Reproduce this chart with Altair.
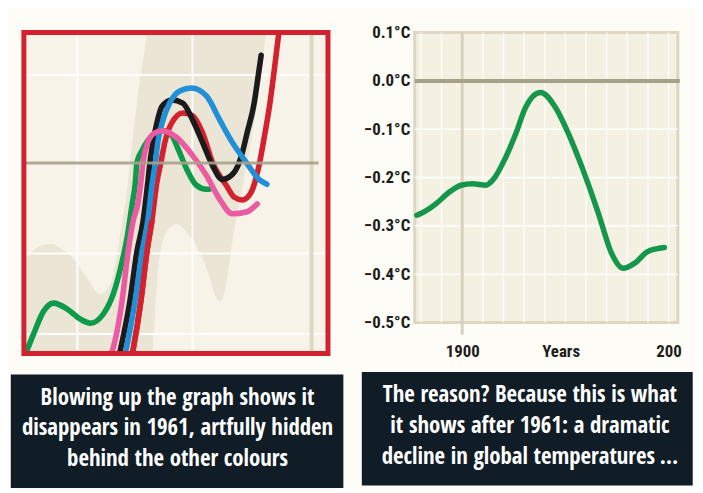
import altair as alt
import pandas as pd

FONT = "Open Sans Condensed, Roboto Condensed, sans-serif"
AXFONT = "Roboto Condensed, Open Sans Condensed, sans-serif"

# ---------------- left panel (blown-up multi-proxy graph) ----------------
green_year = [1899.6, 1902.9, 1906.2, 1909.5, 1914.1, 1918.3, 1921.6, 1925.8, 1929.1, 1931.4, 1933.7, 1935.3,
              1936.4, 1936.9, 1938.6, 1940.5, 1942.8, 1945.4, 1948.4, 1950.3, 1953.3, 1956.5, 1959.8, 1960.8]
green_temp = [-0.440, -0.383, -0.332, -0.314, -0.328, -0.350, -0.359, -0.339, -0.294, -0.239, -0.166, -0.094,
              -0.043, 0.001, 0.028, 0.050, 0.066, 0.072, 0.061, 0.034, -0.014, -0.050, -0.059, -0.059]

pink_year = [1927.5, 1928.8, 1932.0, 1934.0, 1935.6, 1937.3, 1938.2, 1938.9, 1940.5, 1942.5, 1945.1, 1950.0,
             1955.2, 1959.8, 1964.1, 1968.3, 1972.9, 1976.5]
pink_temp = [-0.443, -0.421, -0.310, -0.199, -0.132, -0.088, -0.043, 0.001, 0.046, 0.066, 0.072, 0.057,
             0.017, -0.028, -0.081, -0.114, -0.110, -0.092]

black_year = [1930.7, 1931.4, 1934.6, 1936.9, 1938.9, 1940.5, 1941.2, 1942.2, 1943.5, 1945.1, 1948.4, 1952.0,
              1955.2, 1958.5, 1961.8, 1965.0, 1968.3, 1969.9, 1971.6, 1973.2, 1975.5, 1976.5, 1977.8]
black_temp = [-0.443, -0.421, -0.310, -0.199, -0.132, -0.043, 0.001, 0.046, 0.090, 0.126, 0.141, 0.134,
              0.097, 0.046, -0.006, -0.037, -0.026, -0.010, 0.023, 0.068, 0.134, 0.179, 0.241]

blue_year = [1932.7, 1933.3, 1936.3, 1938.6, 1940.4, 1942.0, 1943.0, 1943.8, 1945.4, 1947.7, 1951.0, 1954.9,
             1959.8, 1964.1, 1968.3, 1972.9, 1977.1, 1979.7]
blue_temp = [-0.443, -0.421, -0.310, -0.199, -0.132, -0.043, 0.001, 0.046, 0.094, 0.134, 0.161, 0.168,
             0.150, 0.097, 0.046, 0.001, -0.037, -0.048]

red_year = [1935.0, 1935.6, 1938.2, 1940.2, 1941.8, 1943.5, 1944.8, 1946.1, 1948.4, 1952.0, 1955.2, 1958.5,
            1961.8, 1966.3, 1969.0, 1971.6, 1974.5, 1977.1, 1979.1, 1980.7, 1982.0, 1983.0, 1984.0]
red_temp = [-0.443, -0.421, -0.310, -0.199, -0.132, -0.043, 0.001, 0.046, 0.090, 0.112, 0.106, 0.068,
            0.001, -0.050, -0.077, -0.083, -0.066, -0.006, 0.068, 0.134, 0.201, 0.257, 0.312]

band_year = [1900.0, 1904.2, 1908.5, 1912.4, 1916.0, 1920.6, 1924.8, 1928.1, 1931.4, 1933.7, 1935.6, 1937.9,
             1940.2, 1941.2, 1942.5, 1943.8, 1945.4, 1947.7, 1950.0, 1952.6, 1955.2, 1958.2, 1960.8, 1962.7,
             1964.4, 1966.3, 1968.3, 1971.6, 1974.8, 1977.1, 1979.4, 1981.0]
band_hi = [-0.214, -0.190, -0.181, -0.194, -0.214, -0.259, -0.294, -0.272, -0.161, -0.059, 0.061, 0.186,
           0.290, 0.350, 0.350, 0.350, 0.350, 0.350, 0.350, 0.350, 0.350, 0.350, 0.350, 0.350,
           0.350, 0.350, 0.350, 0.350, 0.350, 0.350, 0.350, 0.350]
band_lo = [-0.500, -0.500, -0.500, -0.500, -0.500, -0.500, -0.500, -0.500, -0.500, -0.500, -0.500, -0.500,
           -0.500, -0.500, -0.377, -0.243, -0.177, -0.146, -0.137, -0.150, -0.172, -0.210, -0.254, -0.299,
           -0.310, -0.270, -0.177, -0.054, 0.061, 0.157, 0.290, 0.357]

left_grid_years = [1917.3, 1955.2]
left_edge_years = [1994.4]
left_grid_temps = [0.197, -0.203, -0.383]
left_zero = [0.0]

caption_left = ["Blowing up the graph shows it",
                "disappears in 1961, artfully hidden",
                "behind the other colours"]

# ---------------- right panel (the hidden series) ----------------
right_year = [1878.0, 1880.2, 1887.4, 1893.8, 1899.5, 1905.0, 1911.5, 1914.7, 1921.1, 1925.9, 1930.7,
              1938.0, 1945.2, 1951.6, 1958.0, 1966.0, 1972.4, 1978.0, 1983.7, 1990.0, 1998.0]
right_temp = [-0.278, -0.274, -0.254, -0.230, -0.216, -0.213, -0.216, -0.206, -0.158, -0.110, -0.055,
              -0.024, -0.055, -0.110, -0.178, -0.274, -0.357, -0.388, -0.377, -0.353, -0.345]

y_tick_values = [0.1, 0.0, -0.1, -0.2, -0.3, -0.4, -0.5]
y_tick_labels = ["0.1°C", "0.0°C", "−0.1°C", "−0.2°C", "−0.3°C", "−0.4°C", "−0.5°C"]
x_tick_values = [1900, 2000]
x_tick_labels = ["1900", "200"]
x_title = "Years"
right_grid_years = [1880, 1890, 1910, 1920, 1930, 1940, 1950, 1960, 1970, 1980, 1990, 2000]
right_grid_temps = [-0.1, -0.2, -0.3, -0.4]
right_mark_year = [1900]

caption_right = ["The reason? Because this is what",
                 "it shows after 1961: a dramatic",
                 "decline in global temperatures\u2009…"]


def label_expr(values, labels):
    expr = "''"
    for v, l in reversed(list(zip(values, labels))):
        expr = f"datum.value == {v} ? '{l}' : ({expr})"
    return expr


one = pd.DataFrame({"k": [0]})
CAP_FILL = "#101c26"

# ================= LEFT CHART =================
LW, LH = 306.3, 323.3
lx = alt.Scale(domain=[1899.7, 1999.8], nice=False, zero=False)
ly = alt.Scale(domain=[-0.427, 0.292], nice=False, zero=False)

band_df = pd.DataFrame({"year": band_year, "lo": band_lo, "hi": band_hi})
band = alt.Chart(band_df).mark_area(color="#eae5d5", interpolate="monotone", clip=True).encode(
    x=alt.X("year:Q", scale=lx, axis=None),
    y=alt.Y("lo:Q", scale=ly, axis=None),
    y2="hi:Q",
)

vgrid = alt.Chart(pd.DataFrame({"year": left_grid_years})).mark_rule(
    color="#ffffff", strokeWidth=2, opacity=0.9).encode(x=alt.X("year:Q", scale=lx, axis=None))
vedge = alt.Chart(pd.DataFrame({"year": left_edge_years})).mark_rule(
    color="#ddd7c5", strokeWidth=4).encode(x=alt.X("year:Q", scale=lx, axis=None))
hgrid = alt.Chart(pd.DataFrame({"t": left_grid_temps})).mark_rule(
    color="#ffffff", strokeWidth=2, opacity=0.9).encode(y=alt.Y("t:Q", scale=ly, axis=None))


def series(name, years, temps):
    return pd.DataFrame({"year": years, "temp": temps, "s": name, "i": range(len(years))})


def line(df, color, width=5.6):
    return alt.Chart(df).mark_line(color=color, strokeWidth=width, interpolate="monotone",
                                   clip=True, strokeCap="round").encode(
        x=alt.X("year:Q", scale=lx, axis=None),
        y=alt.Y("temp:Q", scale=ly, axis=None),
        order="i:Q",
    )


green_df = series("green", green_year, green_temp)
pink_df = series("pink", pink_year, pink_temp)
black_df = series("black", black_year, black_temp)
blue_df = series("blue", blue_year, blue_temp)
red_df = series("red", red_year, red_temp)

GREEN, PINK, BLACK, BLUE, RED = "#0e9a4b", "#ea5ba2", "#1b1a1c", "#2190d6", "#d3222d"

l_green = line(green_df, GREEN)
l_red = line(red_df, RED)
l_black = line(black_df, BLACK)
l_blue = line(blue_df, BLUE)
l_red_rise = line(red_df, RED).transform_filter("datum.year < 1942.5")
l_pink = line(pink_df, PINK)

zero_l = alt.Chart(pd.DataFrame({"t": left_zero, "a": [1900.3], "b": [1996.7]})).mark_rule(
    color="#a7a28c", strokeWidth=3, opacity=0.9).encode(
    y=alt.Y("t:Q", scale=ly, axis=None), x=alt.X("a:Q", scale=lx, axis=None), x2="b:Q")

frame = alt.Chart(one).mark_rect(fillOpacity=0, stroke=RED, strokeWidth=5).encode(
    x=alt.value(0), x2=alt.value(LW), y=alt.value(0), y2=alt.value(LH))

cap_l_box = alt.Chart(one).mark_rect(color=CAP_FILL).encode(
    x=alt.value(-13.2), x2=alt.value(321.8), y=alt.value(344.3), y2=alt.value(458.8))
cap_l_text = alt.Chart(one).mark_text(
    color="#ffffff", font=FONT, fontWeight="bold", fontSize=23, lineHeight=31,
    align="center", baseline="middle").encode(
    x=alt.value(154.8), y=alt.value(367.8), text=alt.value(caption_left))
top_l = alt.Chart(one).mark_rect(opacity=0).encode(
    x=alt.value(-13.2), x2=alt.value(321.8), y=alt.value(-18.2), y2=alt.value(344.3))

left = alt.layer(top_l, band, vgrid, hgrid, vedge, l_green, l_red, l_black, l_blue, l_red_rise,
                 l_pink, zero_l, frame, cap_l_box, cap_l_text).properties(
    width=LW, height=LH, view=alt.ViewBackground(fill="#f7f3e8", strokeWidth=0))

# ================= RIGHT CHART =================
RW, RH = 265, 292
rx = alt.Scale(domain=[1877, 2004.5], nice=False, zero=False)
ry = alt.Scale(domain=[-0.5, 0.1], nice=False, zero=False)

LABEL_COLOR = "#1c1c1a"
x_axis = alt.Axis(
    values=x_tick_values, labelExpr=label_expr(x_tick_values, x_tick_labels),
    ticks=False, domain=False, grid=False, labelPadding=21,
    labelFont=AXFONT, labelFontSize=17, labelFontWeight="bold", labelColor=LABEL_COLOR,
    title=x_title, titleFont=AXFONT, titleFontSize=17, titleFontWeight="bold",
    titleColor=LABEL_COLOR, titleX=147, titleY=21, titleBaseline="top", titleAlign="center")
y_axis = alt.Axis(
    values=y_tick_values, labelExpr=label_expr(y_tick_values, y_tick_labels),
    ticks=False, domain=False, grid=False, labelPadding=5, title=None,
    labelFont=AXFONT, labelFontSize=17, labelFontWeight="bold", labelColor=LABEL_COLOR)


def RX(field):
    return alt.X(field, type="quantitative", scale=rx, axis=x_axis)


def RY(field):
    return alt.Y(field, type="quantitative", scale=ry, axis=y_axis)


r_vgrid = alt.Chart(pd.DataFrame({"year": right_grid_years})).mark_rule(
    color="#ffffff", strokeWidth=1.5, opacity=0.8).encode(x=RX("year"))
r_hgrid = alt.Chart(pd.DataFrame({"t": right_grid_temps})).mark_rule(
    color="#ffffff", strokeWidth=1.5, opacity=0.9).encode(y=RY("t"))
r_mark = alt.Chart(pd.DataFrame({"year": right_mark_year})).mark_rule(
    color="#d8d1bb", strokeWidth=3).encode(
    x=RX("year"), y=alt.value(0), y2=alt.value(RH + 12))
r_zero = alt.Chart(pd.DataFrame({"t": [0.0]})).mark_rule(
    color="#a6a18b", strokeWidth=4).encode(
    y=RY("t"), x=alt.value(0), x2=alt.value(RW + 2))

right_df = pd.DataFrame({"year": right_year, "temp": right_temp, "i": range(len(right_year))})
r_line = alt.Chart(right_df).mark_line(color="#14964b", strokeWidth=5.5, interpolate="monotone",
                                       strokeCap="round").encode(
    x=RX("year"), y=RY("temp"), order="i:Q")

cap_r_box = alt.Chart(one).mark_rect(color=CAP_FILL).encode(
    x=alt.value(-53.3), x2=alt.value(280), y=alt.value(341.8), y2=alt.value(456.3))
cap_r_text = alt.Chart(one).mark_text(
    color="#ffffff", font=FONT, fontWeight="bold", fontSize=23, lineHeight=31,
    align="center", baseline="middle").encode(
    x=alt.value(116), y=alt.value(365.3), text=alt.value(caption_right))
top_r = alt.Chart(one).mark_rect(opacity=0).encode(
    x=alt.value(-53.3), x2=alt.value(280), y=alt.value(-20.7), y2=alt.value(341.8))

right = alt.layer(top_r, r_vgrid, r_hgrid, r_mark, r_zero, r_line, cap_r_box, cap_r_text).properties(
    width=RW, height=RH, view=alt.ViewBackground(fill="#f4f0e2", stroke="#ddd6c1", strokeWidth=3))

chart = alt.hconcat(left, right, spacing=16.7).properties(
    background="#fdfcf6",
    padding={"left": 2, "top": 0, "right": 0, "bottom": 0},
).configure_view(strokeWidth=0)

chart.save("out.html", embed_options={"renderer": "svg", "actions": False})
